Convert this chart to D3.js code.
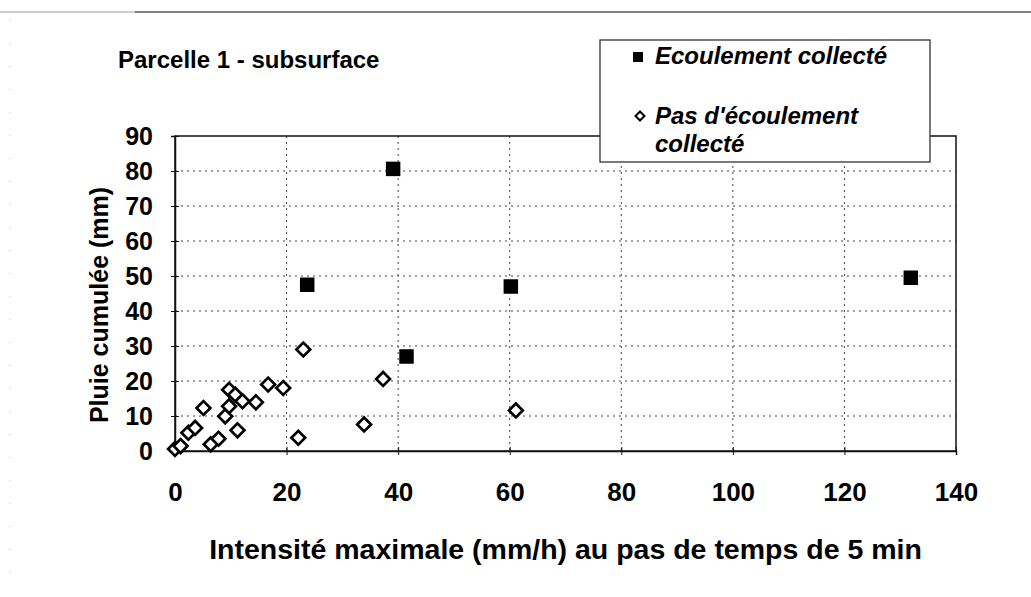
<!DOCTYPE html>
<html>
<head>
<meta charset="utf-8">
<script src="https://cdn.jsdelivr.net/npm/d3@7"></script>
<style>
    body { margin: 0; background: #fff; }
    #chart { width: 1031px; height: 597px; }
    text { font-family: "Liberation Sans", Arial, sans-serif; font-weight: bold; fill: #000; }
</style>
</head>
<body>
<div id="chart"></div>
<script>
// Ecoulement collecté (filled squares)
const collecteX = [39.1, 23.7, 60.2, 41.5, 131.9];
const collecteY = [80.6, 47.5, 47.0, 27.0, 49.5];

// Pas d'écoulement collecté (open diamonds)
const pasX = [0.0, 1.0, 2.4, 3.6, 5.1, 6.4, 7.8, 9.0, 9.7, 9.7, 10.8, 11.2, 12.1, 14.5, 16.7, 19.4, 22.1, 23.0, 33.9, 37.3, 61.1];
const pasY = [0.6, 1.4, 5.2, 6.6, 12.3, 1.9, 3.5, 9.9, 12.8, 17.5, 16.1, 5.9, 14.2, 13.9, 19.0, 18.0, 3.8, 29.0, 7.6, 20.6, 11.6];

const xTicks = [0, 20, 40, 60, 80, 100, 120, 140];
const yTicks = [0, 10, 20, 30, 40, 50, 60, 70, 80, 90];

const titleText = "Parcelle 1 - subsurface";
const xTitle = "Intensité maximale (mm/h) au pas de temps de 5 min";
const yTitle = "Pluie cumulée (mm)";
const legendLabels = ["Ecoulement collecté", ["Pas d'écoulement", "collecté"]];

class ScatterChart {
    constructor(parentElement) {
        this.parentElement = parentElement;
        this.initVis();
    }

    initVis() {
        let vis = this;

        vis.margin = { top: 136, right: 75, bottom: 146, left: 175 };
        vis.totalW = 1031;
        vis.totalH = 597;
        vis.width = vis.totalW - vis.margin.left - vis.margin.right;
        vis.height = vis.totalH - vis.margin.top - vis.margin.bottom;

        vis.root = d3.select("#" + vis.parentElement).append("svg")
            .attr("width", vis.totalW)
            .attr("height", vis.totalH);

        // scanned page frame
        vis.root.append("line")
            .attr("x1", 0).attr("x2", 135).attr("y1", 12).attr("y2", 12)
            .style("stroke", "#999").style("stroke-width", 1);
        vis.root.append("line")
            .attr("x1", 135).attr("x2", vis.totalW).attr("y1", 12).attr("y2", 12)
            .style("stroke", "#555").style("stroke-width", 1.5);
        vis.root.append("line")
            .attr("x1", 10).attr("x2", 10).attr("y1", 20).attr("y2", 590)
            .style("stroke", "#bbb").style("stroke-width", 1)
            .style("stroke-dasharray", "1,22");

        vis.svg = vis.root.append("g")
            .attr("transform", "translate(" + vis.margin.left + "," + vis.margin.top + ")");

        vis.x = d3.scaleLinear().domain([0, 140]).range([0, vis.width]);
        vis.y = d3.scaleLinear().domain([0, 90]).range([vis.height, 0]);

        vis.updateVis();
    }

    updateVis() {
        let vis = this;

        // dotted grid
        vis.svg.append("g").selectAll("line")
            .data(yTicks.filter(d => d > 0 && d < 90))
            .enter().append("line")
            .attr("x1", 0).attr("x2", vis.width)
            .attr("y1", d => vis.y(d)).attr("y2", d => vis.y(d))
            .style("stroke", "#444").style("stroke-width", 1)
            .style("stroke-dasharray", "2,4");

        vis.svg.append("g").selectAll("line")
            .data(xTicks.filter(d => d > 0 && d < 140))
            .enter().append("line")
            .attr("x1", d => vis.x(d)).attr("x2", d => vis.x(d))
            .attr("y1", 0).attr("y2", vis.height)
            .style("stroke", "#444").style("stroke-width", 1)
            .style("stroke-dasharray", "2,4");

        // plot border
        vis.svg.append("rect")
            .attr("width", vis.width).attr("height", vis.height)
            .style("fill", "none").style("stroke", "#111").style("stroke-width", 1.5);

        // axes
        let xAxis = d3.axisBottom(vis.x).tickValues(xTicks).tickSize(4).tickPadding(28);
        let yAxis = d3.axisLeft(vis.y).tickValues(yTicks).tickSize(4).tickPadding(18);

        let gx = vis.svg.append("g")
            .attr("transform", "translate(0," + vis.height + ")")
            .call(xAxis);
        let gy = vis.svg.append("g").call(yAxis);

        [gx, gy].forEach(g => {
            g.select(".domain").style("stroke", "#111").style("stroke-width", 1.5);
            g.selectAll(".tick line").style("stroke", "#111");
            g.selectAll(".tick text")
                .style("font-family", '"Liberation Sans", Arial, sans-serif')
                .style("font-weight", "bold")
                .style("fill", "#000");
        });
        gx.selectAll(".tick text").style("font-size", "26px");
        gy.selectAll(".tick text").style("font-size", "25px");
        // ticks crossing the axis
        gx.selectAll(".tick line").attr("y1", -4);
        gy.selectAll(".tick line").attr("x1", 4);

        // data: no runoff
        let diamond = d3.symbol().type(d3.symbolSquare).size(95);
        vis.svg.append("g").selectAll("path")
            .data(pasX.map((d, i) => [d, pasY[i]]))
            .enter().append("path")
            .attr("d", diamond)
            .attr("transform", d => "translate(" + vis.x(d[0]) + "," + vis.y(d[1]) + ") rotate(45)")
            .style("fill", "#fff").style("stroke", "#000").style("stroke-width", 2.7);

        // data: runoff collected
        let square = d3.symbol().type(d3.symbolSquare).size(210);
        vis.svg.append("g").selectAll("path")
            .data(collecteX.map((d, i) => [d, collecteY[i]]))
            .enter().append("path")
            .attr("d", square)
            .attr("transform", d => "translate(" + vis.x(d[0]) + "," + vis.y(d[1]) + ")")
            .style("fill", "#000");

        // titles
        vis.root.append("text")
            .attr("x", 118).attr("y", 68)
            .style("font-size", "24px")
            .text(titleText);

        vis.root.append("text")
            .attr("x", vis.margin.left + vis.width / 2).attr("y", 559)
            .attr("text-anchor", "middle")
            .style("font-size", "28.5px")
            .text(xTitle);

        vis.root.append("text")
            .attr("transform", "translate(108," + 305 + ") rotate(-90)")
            .attr("text-anchor", "middle")
            .style("font-size", "25px")
            .text(yTitle);

        // legend
        let lg = vis.root.append("g").attr("transform", "translate(600,40)");
        lg.append("rect")
            .attr("width", 330).attr("height", 122)
            .style("fill", "#fff").style("stroke", "#333").style("stroke-width", 1.3);

        lg.append("path")
            .attr("d", d3.symbol().type(d3.symbolSquare).size(100))
            .attr("transform", "translate(38,17)")
            .style("fill", "#000");
        lg.append("text")
            .attr("x", 55).attr("y", 24)
            .style("font-size", "24px").style("font-style", "italic")
            .text(legendLabels[0]);

        lg.append("path")
            .attr("d", d3.symbol().type(d3.symbolSquare).size(40))
            .attr("transform", "translate(40,76) rotate(45)")
            .style("fill", "#fff").style("stroke", "#000").style("stroke-width", 2);
        lg.append("text")
            .attr("x", 55).attr("y", 84)
            .style("font-size", "24px").style("font-style", "italic")
            .selectAll("tspan")
            .data(legendLabels[1])
            .enter().append("tspan")
            .attr("x", 55)
            .attr("dy", (d, i) => i === 0 ? 0 : 28)
            .text(d => d);
    }
}

new ScatterChart("chart");
</script>
</body>
</html>
